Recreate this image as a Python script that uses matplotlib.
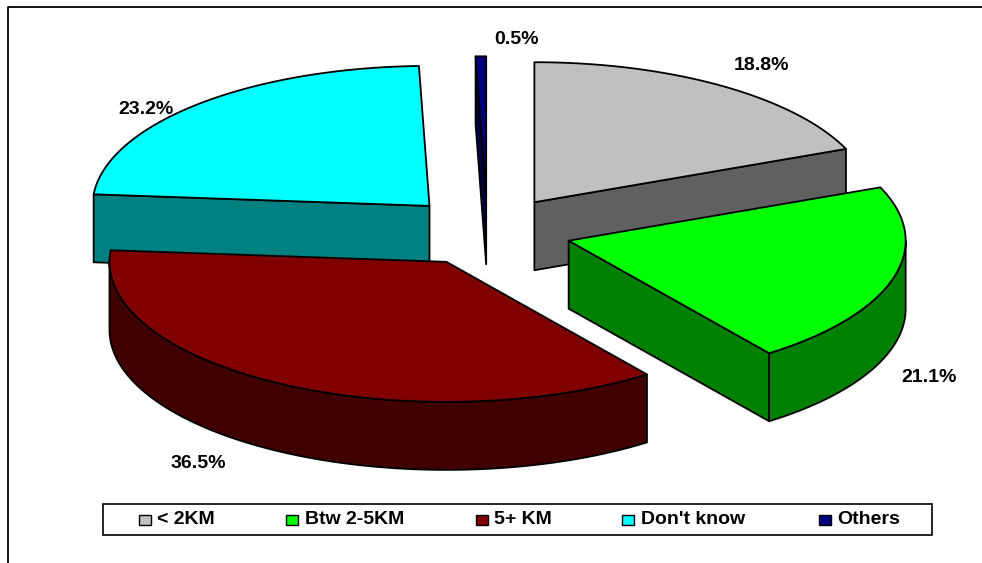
import numpy as np
import matplotlib
matplotlib.use("Agg")
import matplotlib.pyplot as plt
from matplotlib.patches import Polygon, Rectangle

categories = ["< 2KM", "Btw 2-5KM", "5+ KM", "Don't know", "Others"]
shares = [18.8, 21.1, 36.5, 23.2, 0.5]
top_colors = ["#C0C0C0", "#00FF00", "#800000", "#00FFFF", "#000080"]
side_colors = ["#606060", "#008000", "#400000", "#008080", "#000040"]

# pie geometry in pixels
CX, CY = 487.5, 231.3
RX, RY = 337, 140
DEPTH = 68
EXPLODE = 0.25

# back to front
draw_order = [4, 0, 3, 1, 2]

label_pos = [(762, 66), (929, 377), (198, 463), (146, 110), (517, 39)]
legend_swatch_x = [139, 286, 476, 622, 819]
legend_text_x = [157, 305, 494, 641, 837]


def point(apex, angle):
    # angle is in degrees, clockwise from the top of the pie
    a = np.radians(angle)
    return apex[0] + RX * np.sin(a), apex[1] - RY * np.cos(a)


def arc(apex, start, end):
    n = max(int(abs(end - start)) + 2, 2)
    return [point(apex, t) for t in np.linspace(start, end, n)]


def add_poly(ax, pts, color):
    ax.add_patch(Polygon(pts, closed=True, facecolor=color, edgecolor="black",
                         linewidth=1.3, joinstyle="round"))


def draw_cut_face(ax, apex, angle, color):
    x, y = point(apex, angle)
    pts = [apex, (x, y), (x, y + DEPTH), (apex[0], apex[1] + DEPTH)]
    add_poly(ax, pts, color)


def draw_slice(ax, start, end, top, side):
    mid = np.radians((start + end) / 2)
    apex = (CX + EXPLODE * RX * np.sin(mid), CY - EXPLODE * RY * np.cos(mid))

    # walls that face the viewer
    if np.sin(np.radians(start)) < 0:
        draw_cut_face(ax, apex, start, side)
    if np.sin(np.radians(end)) > 1e-6:
        draw_cut_face(ax, apex, end, side)

    rim_start, rim_end = max(start, 90), min(end, 270)
    if rim_start < rim_end:
        upper = arc(apex, rim_start, rim_end)
        lower = [(x, y + DEPTH) for x, y in reversed(upper)]
        add_poly(ax, upper + lower, side)

    add_poly(ax, [apex] + arc(apex, start, end), top)


fig = plt.figure(figsize=(9.82, 5.63), dpi=100)
ax = fig.add_axes([0, 0, 1, 1])
ax.set_xlim(0, 982)
ax.set_ylim(563, 0)
ax.axis("off")

plt.rcParams["font.family"] = ["Liberation Sans", "DejaVu Sans"]
text_style = dict(fontsize=14, fontweight="bold", color="black")

# chart frame, open on the right and at the bottom
ax.plot([8.5, 8.5, 982], [563, 6.5, 6.5], color="black", linewidth=1.3)

edges = np.concatenate([[0], np.cumsum(shares)]) / sum(shares) * 360
for i in draw_order:
    draw_slice(ax, edges[i], edges[i + 1], top_colors[i], side_colors[i])

for value, (x, y) in zip(shares, label_pos):
    ax.text(x, y, f"{value:.1f}%", ha="center", va="center", **text_style)

# legend box along the bottom
ax.add_patch(Rectangle((103, 504), 829, 31, facecolor="white", edgecolor="black", linewidth=1.2))
for i, name in enumerate(categories):
    ax.add_patch(Rectangle((legend_swatch_x[i], 515), 12, 10, facecolor=top_colors[i],
                           edgecolor="black", linewidth=1.0))
    ax.text(legend_text_x[i], 519.5, name, ha="left", va="center", **text_style)

fig.savefig("out.png", dpi=100)
